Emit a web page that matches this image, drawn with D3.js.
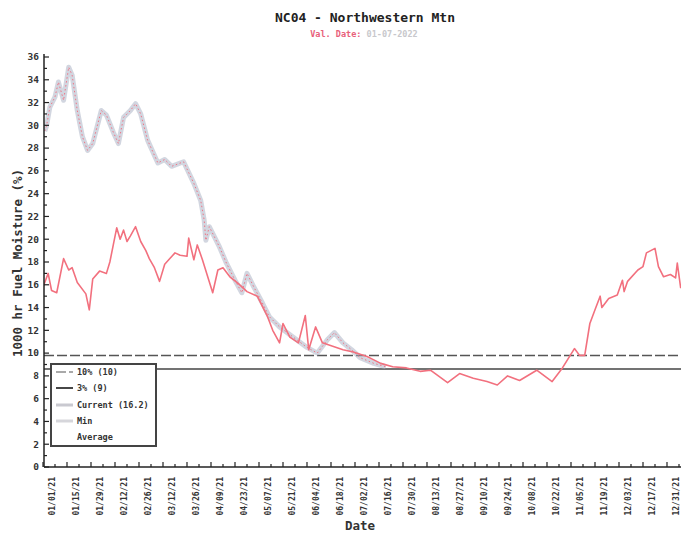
<!DOCTYPE html>
<html>
<head>
<meta charset="utf-8">
<script src="https://cdn.jsdelivr.net/npm/d3@7"></script>
<style>
  html, body { margin: 0; padding: 0; background: #fff; }
  svg { display: block; }
  text { font-family: "DejaVu Sans Mono", "Liberation Mono", monospace; }
</style>
</head>
<body>
<svg id="chart" width="681" height="535"></svg>
<script>
// ---------- DATA ----------
const titleText = "NC04 - Northwestern Mtn";
const subtitleLabel = "Val. Date:";
const subtitleDate = "01-07-2022";
const yLabel = "1000 hr Fuel Moisture (%)";
const xLabel = "Date";

const xTickLabels = ["01/01/21","01/15/21","01/29/21","02/12/21","02/26/21","03/12/21","03/26/21",
  "04/09/21","04/23/21","05/07/21","05/21/21","06/04/21","06/18/21","07/02/21","07/16/21",
  "07/30/21","08/13/21","08/27/21","09/10/21","09/24/21","10/08/21","10/22/21","11/05/21",
  "11/19/21","12/03/21","12/17/21","12/31/21"];
const yTickValues = [0,2,4,6,8,10,12,14,16,18,20,22,24,26,28,30,32,34,36];

// Current (red) series
const currentDates = ["2021-01-01","2021-01-04","2021-01-06","2021-01-09","2021-01-13","2021-01-16",
  "2021-01-18","2021-01-21","2021-01-26","2021-01-28","2021-01-30","2021-02-03","2021-02-07",
  "2021-02-09","2021-02-11","2021-02-13","2021-02-15","2021-02-17","2021-02-19","2021-02-21",
  "2021-02-24","2021-02-27","2021-03-02","2021-03-04","2021-03-07","2021-03-10","2021-03-13",
  "2021-03-16","2021-03-19","2021-03-22","2021-03-26","2021-03-27","2021-03-30","2021-04-01",
  "2021-04-04","2021-04-10","2021-04-13","2021-04-16","2021-04-20","2021-04-25","2021-04-30",
  "2021-05-06","2021-05-12","2021-05-15","2021-05-19","2021-05-21","2021-05-25","2021-05-30",
  "2021-06-03","2021-06-05","2021-06-09","2021-06-13","2021-06-19","2021-06-25","2021-07-01",
  "2021-07-05","2021-07-09","2021-07-15","2021-07-17","2021-07-24","2021-08-01","2021-08-09",
  "2021-08-15","2021-08-25","2021-09-01","2021-09-09","2021-09-17","2021-09-23","2021-09-29",
  "2021-10-06","2021-10-16","2021-10-25","2021-10-30","2021-10-31","2021-11-07","2021-11-10",
  "2021-11-13","2021-11-16","2021-11-19","2021-11-22","2021-11-23","2021-11-27","2021-12-02",
  "2021-12-05","2021-12-06","2021-12-08","2021-12-14","2021-12-17","2021-12-19","2021-12-24",
  "2021-12-26","2021-12-29","2022-01-02","2022-01-05","2022-01-06","2022-01-08"];
const currentValues = [15.8,17.0,15.5,15.3,18.3,17.3,
  17.5,16.2,15.2,13.8,16.5,17.2,17.0,
  18.0,19.5,21.0,20.0,20.8,19.8,20.3,
  21.1,19.8,19.0,18.3,17.5,16.3,17.8,
  18.3,18.8,18.6,18.5,20.1,18.2,19.5,
  18.2,15.3,17.3,17.5,16.7,16.1,15.4,
  15.0,13.2,12.0,10.9,12.6,11.4,10.9,
  13.3,10.3,12.3,10.9,10.6,10.3,10.1,
  9.9,9.7,9.25,9.1,8.8,8.7,8.4,
  8.5,7.4,8.2,7.8,7.5,7.2,8.0,
  7.6,8.5,7.5,8.5,8.7,10.4,9.8,
  9.8,12.6,13.8,15.0,14.0,14.8,15.1,
  16.4,15.4,16.3,17.3,17.6,18.8,19.2,
  17.6,16.7,16.9,16.6,17.9,15.7];

// Grey (Min / historical) series, drawn with red dotted edge
const greyDates = ["2021-01-02","2021-01-03","2021-01-05","2021-01-08","2021-01-10","2021-01-13",
  "2021-01-16","2021-01-18","2021-01-21","2021-01-24","2021-01-27","2021-01-30","2021-02-04",
  "2021-02-07","2021-02-11","2021-02-14","2021-02-17","2021-02-21","2021-02-24","2021-02-27",
  "2021-03-03","2021-03-09","2021-03-13","2021-03-17","2021-03-24","2021-03-30","2021-04-03",
  "2021-04-05","2021-04-06","2021-04-08","2021-04-14","2021-04-18","2021-04-23","2021-04-27",
  "2021-04-30","2021-05-04","2021-05-09","2021-05-13","2021-05-19","2021-05-27","2021-06-04",
  "2021-06-10","2021-06-16","2021-06-20","2021-06-25","2021-06-30","2021-07-05","2021-07-13",
  "2021-07-20"];
const greyValues = [29.5,29.9,31.6,32.5,33.8,32.2,
  35.1,34.4,31.3,29.0,27.8,28.4,31.3,
  30.9,29.4,28.4,30.7,31.3,31.9,31.0,
  28.7,26.7,27.0,26.4,26.8,24.9,23.4,
  21.7,19.9,21.1,19.3,17.9,16.4,15.3,
  17.0,15.8,14.4,13.2,12.3,11.4,10.5,
  10.0,11.2,11.8,10.9,10.3,9.6,9.1,
  8.8];

const pct10Value = 9.8;
const pct3Value = 8.6;
const legendLabels = ["10% (10)", "3% (9)", "Current (16.2)", "Min", "Average"];

// ---------- CHART ----------
const svg = d3.select("#chart");
const parse = d3.timeParse("%Y-%m-%d");
const plotLeft = 44, plotRight = 681, plotTop = 50, plotBottom = 467;

const x = d3.scaleTime()
  .domain([parse("2021-01-01"), parse("2021-12-31")])
  .range([43, 667]);
const y = d3.scaleLinear().domain([0, 36]).range([467, 57]);

svg.append("defs").append("clipPath").attr("id", "clip")
  .append("rect").attr("x", plotLeft).attr("y", plotTop)
  .attr("width", plotRight - plotLeft).attr("height", plotBottom - plotTop);

const plot = svg.append("g").attr("clip-path", "url(#clip)");

// Percentile lines
plot.append("line")
  .attr("x1", plotLeft).attr("x2", plotRight)
  .attr("y1", y(pct10Value)).attr("y2", y(pct10Value))
  .attr("stroke", "#555").attr("stroke-width", 1.5).attr("stroke-dasharray", "10,3");
plot.append("line")
  .attr("x1", plotLeft).attr("x2", plotRight)
  .attr("y1", y(pct3Value)).attr("y2", y(pct3Value))
  .attr("stroke", "#444").attr("stroke-width", 1.6);

const line = d3.line().x(d => x(d.date)).y(d => y(d.value));

const greyData = greyDates.map((d, i) => ({ date: parse(d), value: greyValues[i] }));
const curData = currentDates.map((d, i) => ({ date: parse(d), value: currentValues[i] }));

plot.append("path").datum(greyData)
  .attr("d", line).attr("fill", "none")
  .attr("stroke", "#a6aec2").attr("stroke-width", 5).attr("stroke-opacity", 0.5)
  .attr("stroke-linejoin", "round");
plot.append("path").datum(greyData)
  .attr("d", line).attr("fill", "none")
  .attr("stroke", "#f07585").attr("stroke-width", 1).attr("stroke-dasharray", "1.5,2.5");

plot.append("path").datum(curData)
  .attr("d", line).attr("fill", "none")
  .attr("stroke", "#f2707e").attr("stroke-width", 1.6)
  .attr("stroke-linejoin", "round");

// Y axis
const yMinor = d3.range(0, 37, 1);
const yAxisG = svg.append("g").attr("transform", `translate(${plotLeft},0)`);
yAxisG.append("line").attr("x1", 0).attr("x2", 0).attr("y1", y(36) - 3).attr("y2", plotBottom)
  .attr("stroke", "#222").attr("stroke-width", 1.5);
yAxisG.selectAll(".ym").data(yMinor).join("line")
  .attr("x1", 0).attr("x2", d => d % 2 === 0 ? 5 : 3)
  .attr("y1", d => y(d)).attr("y2", d => y(d))
  .attr("stroke", "#222").attr("stroke-width", 1.2);
yAxisG.selectAll(".yl").data(yTickValues).join("text")
  .attr("x", -5).attr("y", d => y(d)).attr("dy", "0.35em")
  .attr("text-anchor", "end").attr("font-size", 9.5).attr("font-weight", "bold")
  .attr("fill", "#333").text(d => d);

// X axis
const xAxisG = svg.append("g");
xAxisG.append("line").attr("x1", plotLeft).attr("x2", plotRight)
  .attr("y1", plotBottom).attr("y2", plotBottom)
  .attr("stroke", "#222").attr("stroke-width", 1.5);
const minorDates = d3.range(0, 372, 7).map(d => d3.timeDay.offset(parse("2021-01-01"), d));
xAxisG.selectAll(".xm").data(minorDates).join("line")
  .attr("x1", d => x(d)).attr("x2", d => x(d))
  .attr("y1", plotBottom).attr("y2", (d, i) => plotBottom - (i % 2 === 0 ? 5 : 3))
  .attr("stroke", "#222").attr("stroke-width", 1.2);
const labelParse = d3.timeParse("%m/%d/%y");
xAxisG.selectAll(".xl").data(xTickLabels).join("text")
  .attr("transform", d => `translate(${x(labelParse(d)) + 9},${plotBottom + 10}) rotate(-90)`)
  .attr("dy", "0.35em").attr("text-anchor", "end")
  .attr("font-size", 8).attr("font-weight", "bold").attr("fill", "#333")
  .text(d => d);

// Titles
svg.append("text").attr("x", 365).attr("y", 22).attr("text-anchor", "middle")
  .attr("font-size", 13).attr("font-weight", "bold").attr("fill", "#222").text(titleText);
const sub = svg.append("text").attr("x", 364).attr("y", 37).attr("text-anchor", "middle")
  .attr("font-size", 8.5).attr("font-weight", "bold");
sub.append("tspan").attr("fill", "#e8607a").text(subtitleLabel + " ");
sub.append("tspan").attr("fill", "#c8c8cc").text(subtitleDate);

svg.append("text").attr("transform", "translate(22,263) rotate(-90)")
  .attr("text-anchor", "middle").attr("font-size", 12.5).attr("font-weight", "bold")
  .attr("fill", "#333").text(yLabel);
svg.append("text").attr("x", 360).attr("y", 530).attr("text-anchor", "middle")
  .attr("font-size", 12.5).attr("font-weight", "bold").attr("fill", "#333").text(xLabel);

// Legend
const lg = svg.append("g").attr("transform", "translate(51,364)");
lg.append("rect").attr("width", 105).attr("height", 82)
  .attr("fill", "#fff").attr("stroke", "#444").attr("stroke-width", 2);
const sampleStyles = [
  { stroke: "#555", width: 1.2, dash: "10,3", op: 1 },
  { stroke: "#333", width: 1.8, dash: null, op: 1 },
  { stroke: "#bbbbc4", width: 3, dash: null, op: 0.8 },
  { stroke: "#c4c4cc", width: 3, dash: null, op: 0.7 },
  { stroke: "#fff", width: 2, dash: null, op: 0 }
];
const rowsY = [8, 24, 41, 57, 73];
legendLabels.forEach((lbl, i) => {
  const s = sampleStyles[i];
  lg.append("line").attr("x1", 5).attr("x2", 22).attr("y1", rowsY[i]).attr("y2", rowsY[i])
    .attr("stroke", s.stroke).attr("stroke-width", s.width)
    .attr("stroke-dasharray", s.dash).attr("stroke-opacity", s.op);
  lg.append("text").attr("x", 26).attr("y", rowsY[i]).attr("dy", "0.35em")
    .attr("font-size", 8.5).attr("font-weight", "bold").attr("fill", "#333").text(lbl);
});
</script>
</body>
</html>
